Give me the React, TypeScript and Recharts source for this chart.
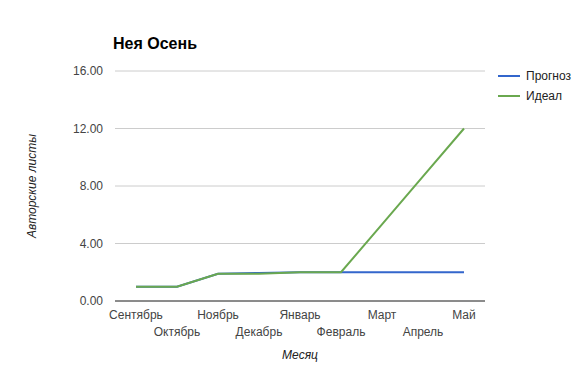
import React from 'react';
import { LineChart, Line, XAxis, YAxis, CartesianGrid } from 'recharts';

const months = ['Сентябрь', 'Октябрь', 'Ноябрь', 'Декабрь', 'Январь', 'Февраль', 'Март', 'Апрель', 'Май'];
const forecast = [1, 1, 1.9, 1.95, 2, 2, 2, 2, 2];
const ideal = [1, 1, 1.9, 1.9, 2, 2, 5.33, 8.67, 12];
const yTicks = [0, 4, 8, 12, 16];

const data = months.map((m, i) => ({ month: m, forecast: forecast[i], ideal: ideal[i] }));

const FONT = '"Liberation Sans", Arial, sans-serif';
const BLUE = '#3366cc';
const GREEN = '#6aa84f';

const MonthTick = (props: any) => {
  const { x, y, payload, index } = props;
  const dy = index % 2 === 0 ? 10 : 27;
  return (
    <text x={x} y={y + dy} textAnchor="middle" fill="#444" fontSize={12} fontFamily={FONT}>
      {payload.value}
    </text>
  );
};

const legendItems = [
  { name: 'Прогноз', color: BLUE },
  { name: 'Идеал', color: GREEN },
];

export default function App() {
  return (
    <div style={{ position: 'absolute', left: 0, top: 0, width: 577, height: 365, background: '#fff', fontFamily: FONT }}>
      <div style={{ position: 'absolute', left: 113, top: 35, fontSize: 16, fontWeight: 'bold', color: '#000' }}>
        Нея Осень
      </div>
      <div style={{ position: 'absolute', left: 498, top: 66 }}>
        {legendItems.map((it) => (
          <div key={it.name} style={{ display: 'flex', alignItems: 'center', height: 20, fontSize: 12, color: '#222' }}>
            <span style={{ width: 22, height: 2, background: it.color, marginRight: 6 }} />
            {it.name}
          </div>
        ))}
      </div>
      <LineChart width={577} height={365} data={data} margin={{ top: 71, right: 92, bottom: 0, left: 0 }}>
        <CartesianGrid vertical={false} stroke="#ccc" />
        <XAxis
          dataKey="month"
          interval={0}
          tick={<MonthTick />}
          tickLine={false}
          axisLine={{ stroke: '#333' }}
          padding={{ left: 21, right: 21 }}
          height={64}
          label={{ value: 'Месяц', position: 'insideBottom', offset: 6, fill: '#222', fontSize: 12, fontStyle: 'italic', fontFamily: FONT }}
        />
        <YAxis
          width={115}
          domain={[0, 16]}
          ticks={yTicks}
          tickFormatter={(v: number) => v.toFixed(2)}
          tick={{ fill: '#444', fontSize: 12, fontFamily: FONT }}
          tickLine={false}
          axisLine={false}
          tickMargin={6}
          label={{ value: 'Авторские листы', angle: -90, position: 'insideLeft', offset: 32, fill: '#222', fontSize: 12, fontStyle: 'italic', fontFamily: FONT, style: { textAnchor: 'middle' } }}
        />
        <Line dataKey="forecast" stroke={BLUE} strokeWidth={2} dot={false} isAnimationActive={false} />
        <Line dataKey="ideal" stroke={GREEN} strokeWidth={2} dot={false} isAnimationActive={false} />
      </LineChart>
    </div>
  );
}
